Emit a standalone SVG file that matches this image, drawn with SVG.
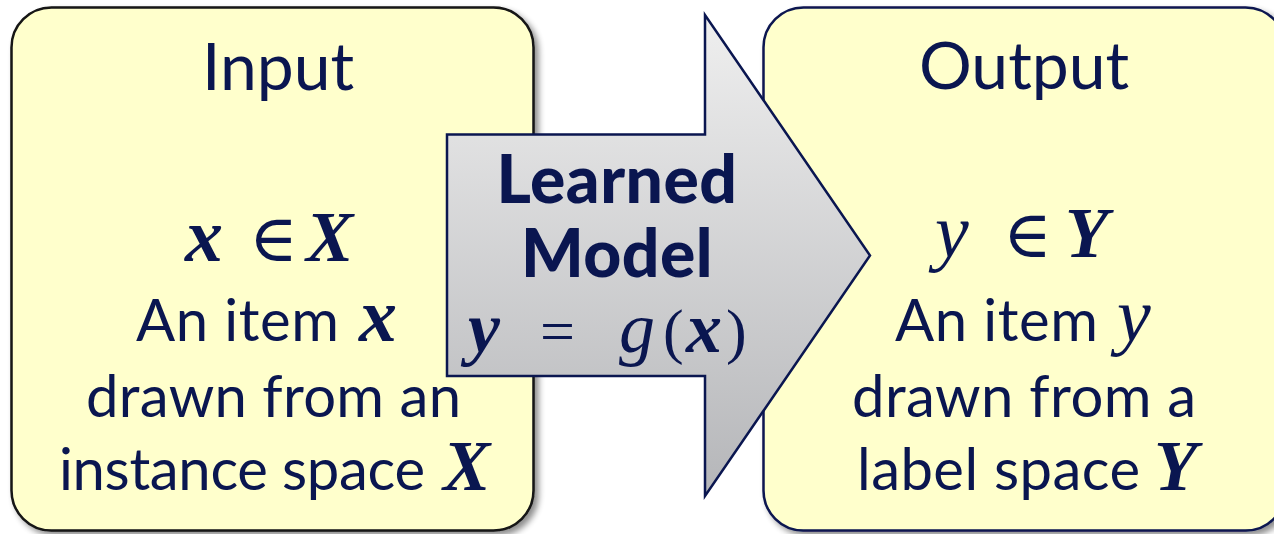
<svg xmlns="http://www.w3.org/2000/svg" width="1274" height="534" viewBox="0 0 1274 534">
<style>
.box{fill:#FFFFCC;stroke-width:2.5}
.sans{font-family:Lato,"Open Sans","Liberation Sans",sans-serif;fill:#0a1650}
.body{font-size:58px}
.title{font-size:66px}
.bold{font-size:66px;font-weight:900;letter-spacing:0.5px}
.m{font-family:"Liberation Serif","DejaVu Serif",serif;fill:#0a1650}
.bi{font-style:italic;font-weight:bold}
.it{font-style:italic}
.lc{font-size:76px}
.uc{font-size:71px}
</style>
<defs>
<filter id="sh" x="-10%" y="-10%" width="120%" height="120%">
<feGaussianBlur in="SourceAlpha" stdDeviation="3"/>
<feOffset dx="4" dy="4" result="b"/>
<feComponentTransfer><feFuncA type="linear" slope="0.45"/></feComponentTransfer>
<feMerge><feMergeNode/><feMergeNode in="SourceGraphic"/></feMerge>
</filter>
<linearGradient id="ag" x1="0" y1="0" x2="0" y2="1">
<stop offset="0" stop-color="#efefef"/>
<stop offset="1" stop-color="#b5b6b9"/>
</linearGradient>
</defs>
<g id="input">
<rect class="box" x="11.5" y="7.5" width="522" height="523" rx="40" stroke="#141414" filter="url(#sh)"/>
<text class="sans title" x="202" y="90">Input</text>
<text class="m" font-size="66" y="261"><tspan class="bi lc" x="185">x</tspan><tspan x="249">∈</tspan><tspan class="bi uc" x="306">X</tspan></text>
<text class="sans body" x="136" y="341" textLength="203" lengthAdjust="spacing">An item</text>
<text class="m bi lc" x="359" y="341">x</text>
<text class="sans body" x="86" y="417" textLength="375" lengthAdjust="spacing">drawn from an</text>
<text class="sans body" x="59" y="490" textLength="366" lengthAdjust="spacing">instance space</text>
<text class="m bi uc" x="443" y="490">X</text>
</g>
<g id="output">
<rect class="box" x="763.5" y="7.5" width="522" height="523" rx="40" stroke="#0a1650" filter="url(#sh)"/>
<text class="sans title" x="919" y="89">Output</text>
<text class="m" font-size="66" y="257"><tspan class="it lc" x="935">y</tspan><tspan x="1003">∈</tspan><tspan class="bi uc" x="1065">Y</tspan></text>
<text class="sans body" x="895" y="341" textLength="203" lengthAdjust="spacing">An item</text>
<text class="m it lc" x="1117" y="341">y</text>
<text class="sans body" x="852" y="417" textLength="344" lengthAdjust="spacing">drawn from a</text>
<text class="sans body" x="857" y="490" textLength="283" lengthAdjust="spacing">label space</text>
<text class="m bi uc" x="1154" y="490">Y</text>
</g>
<g id="model">
<path d="M447,134.5 H705 V15 L870,255.5 L705,496 V376 H447 Z" fill="url(#ag)" stroke="#0a1650" stroke-width="2.5" stroke-linejoin="miter"/>
<text class="sans bold" x="617" y="203" text-anchor="middle">Learned</text>
<text class="sans bold" x="617" y="277" text-anchor="middle">Model</text>
<text class="m" font-size="62" y="352"><tspan class="bi" font-size="72" x="468">y</tspan><tspan x="540">=</tspan><tspan class="it" font-size="72" x="619">g</tspan><tspan x="663">(</tspan><tspan class="bi" font-size="72" x="686">x</tspan><tspan x="726">)</tspan></text>
</g>
<g id="connectors"/>
</svg>
